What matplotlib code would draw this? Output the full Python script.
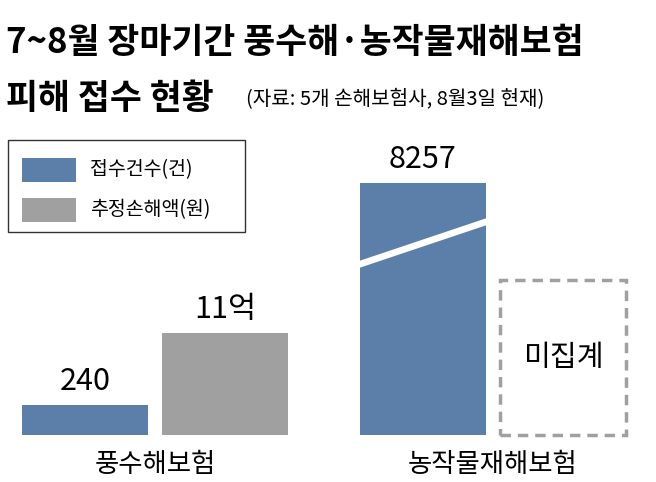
import matplotlib
matplotlib.use("Agg")
import matplotlib.pyplot as plt
from matplotlib.patches import Rectangle, Polygon

plt.rcParams['font.family'] = ['Noto Sans CJK KR', 'DejaVu Sans']

BLUE = "#5b7fa8"
GRAY = "#a0a0a0"

categories = ["풍수해보험", "농작물재해보험"]
series = ["접수건수(건)", "추정손해액(원)"]
# displayed labels and illustrative bar heights (broken, not to scale)
value_labels = [["240", "11억"], ["8257", "미집계"]]
bar_heights = [[30, 102], [252, 155]]
cat_centers = [155, 493]

fig = plt.figure(figsize=(6.56, 4.82), dpi=100)
ax = fig.add_axes([0, 0, 1, 1])
ax.set_xlim(0, 656)
ax.set_ylim(0, 482)
ax.axis("off")

base = 47
bw = 126
offsets = [-70, 70]

for ci, c in enumerate(categories):
    for si in range(2):
        x0 = cat_centers[ci] + offsets[si] - bw / 2
        h = bar_heights[ci][si]
        lab = value_labels[ci][si]
        if lab == "미집계":
            ax.add_patch(Rectangle((x0, base), bw, h, facecolor="white",
                                   edgecolor=GRAY, linestyle=(0, (3, 2)), linewidth=2.5))
            ax.text(x0 + bw / 2, base + h / 2, lab, ha="center", va="center",
                    fontsize=21, fontweight="medium")
            continue
        ax.bar(x0, h, width=bw, bottom=base, align="edge",
               color=BLUE if si == 0 else GRAY)
        ax.text(x0 + bw / 2, base + h + 8, lab, ha="center", va="bottom",
                fontsize=22)
        if lab == "8257":
            ax.add_patch(Polygon([(x0 - 1, 214), (x0 + bw + 1, 257),
                                  (x0 + bw + 1, 264), (x0 - 1, 221)],
                                 facecolor="white", edgecolor="none"))
    ax.text(cat_centers[ci], 17, c, ha="center", va="center", fontsize=19)

# legend
ax.add_patch(Rectangle((8, 250), 237, 92, facecolor="white", edgecolor="#333333", linewidth=1))
for i, (s, col) in enumerate(zip(series, [BLUE, GRAY])):
    y = 312 - i * 40
    ax.add_patch(Rectangle((22, y - 12), 54, 24, facecolor=col))
    ax.text(90, y, s, va="center", fontsize=14)

# title
ax.text(6, 440, "7~8월 장마기간 풍수해·농작물재해보험", fontsize=25, fontweight="bold", va="center")
ax.text(6, 384, "피해 접수 현황", fontsize=25, fontweight="bold", va="center")
ax.text(246, 382, "(자료: 5개 손해보험사, 8월3일 현재)", fontsize=14.5, va="center")

fig.savefig("out.png", dpi=100, facecolor="white")
